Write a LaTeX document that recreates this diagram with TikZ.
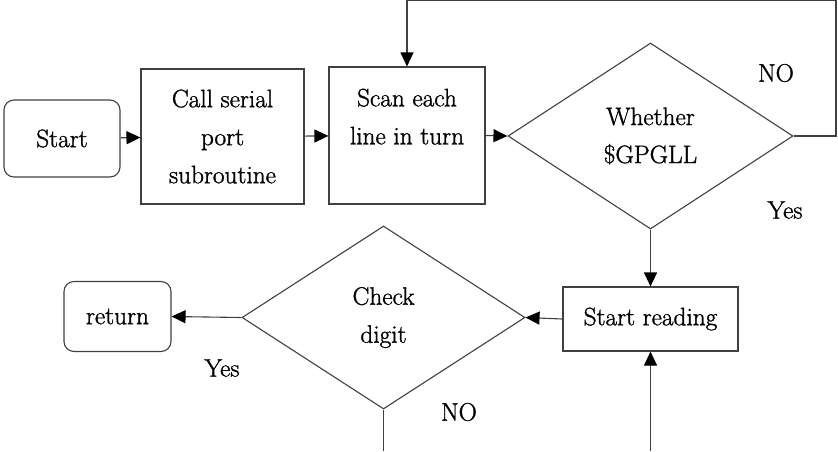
\documentclass[tikz,border=0pt]{standalone}
\usepackage{fontspec}
\newfontfamily\flowfont{Latin Modern Roman}[FakeBold=1.2]
\usetikzlibrary{shapes.geometric,arrows.meta}
\begin{document}
\begin{tikzpicture}[x=1pt,y=-1pt,
  every node/.style={font=\flowfont\fontsize{25.3}{38}\selectfont, text=black},
  box/.style={draw=black!75, line width=1.1pt, align=center, inner sep=0pt},
  term/.style={box, rounded corners=10pt},
  decision/.style={box, diamond, aspect=1.5},
  flow/.style={draw=black!75, line width=1.1pt, -{Triangle[length=14pt,width=13pt,black]}},
  link/.style={draw=black!75, line width=1.1pt},
  tag/.style={inner sep=0pt}]
\useasboundingbox (0,0) rectangle (838,451);

% process boxes
\node[term, minimum width=116pt, minimum height=77pt] (start) at (62,138.5) {Start};
\node[box, minimum width=163pt, minimum height=135pt] (call) at (222.5,136.5) {Call serial\\port\\subroutine};
\node[box, minimum width=156pt, minimum height=137pt] (scan) at (407,135.5) {Scan each\\line in turn\\~};
\node[decision, minimum width=285pt, minimum height=186pt] (gpgll) at (650.5,136) {Whether\\\$GPGLL};
\node[box, minimum width=175pt, minimum height=64pt] (read) at (650.5,319) {Start reading};
\node[decision, minimum width=283pt, minimum height=183pt] (check) at (383.5,317.5) {Check\\digit};
\node[term, minimum width=107pt, minimum height=70pt] (ret) at (117.5,316.5) {return};

% branch labels
\node[tag] (no1) at (776,73) {NO};
\node[tag] (yes1) at (785,210) {Yes};
\node[tag] (yes2) at (222,368) {Yes};
\node[tag] (no2) at (459,412) {NO};

% loop-back route and open ends
\coordinate (loopA) at (836,136);
\coordinate (loopB) at (836,0.8);
\coordinate (loopC) at (407,0.8);
\coordinate (outB) at (383.5,451);
\coordinate (inB) at (650.5,451);

% connectors
\draw[flow] (start) -- (call);
\draw[flow] (call) -- (scan);
\draw[flow] (scan.east) -- (gpgll.west);
\draw[flow] (gpgll.east) -- (loopA) -- (loopB) -- (loopC) -- (scan.north);
\draw[flow] (gpgll.south) -- (read.north);
\draw[flow] (read.west) -- (check.east);
\draw[flow] (check.west) -- (ret.east);
\draw[link] (check.south) -- (outB);
\draw[flow] (inB) -- (read.south);
\end{tikzpicture}
\end{document}
